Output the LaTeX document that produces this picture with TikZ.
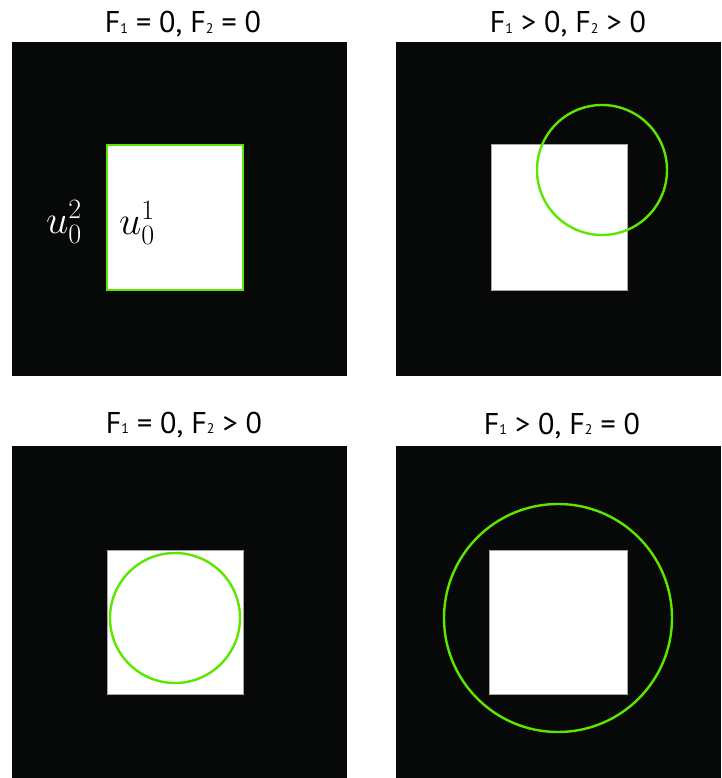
\RequirePackage{fix-cm}
\documentclass[tikz,border=0pt]{standalone}
\usepackage{fontspec}
\setsansfont{PT Sans}
\usepackage{xcolor}
\definecolor{bgblack}{RGB}{6, 9, 8}
\definecolor{levelgreen}{RGB}{92, 230, 0}
\newcommand{\lowdigit}[1]{\raisebox{-0.3pt}{\fontsize{14}{14}\selectfont #1}}

\begin{document}
\begin{tikzpicture}[
    x=1pt, y=-1pt,
    panel/.style={fill=bgblack},
    region/.style={fill=white, draw=gray!70, line width=0.8pt},
    contour/.style={draw=levelgreen, line width=2.4pt},
    ttl/.style={font=\fontsize{30}{34}\selectfont\sffamily, anchor=base, inner sep=0pt},
    lbl/.style={font=\fontsize{40}{44}\selectfont, inner sep=0pt}
]
  \useasboundingbox (0, 0) rectangle (721, 778);

  % Titles
  \node[ttl] (t1) at (183, 33) {F\lowdigit{1} = 0, F\lowdigit{2} = 0};
  \node[ttl] (t2) at (568, 33) {F\lowdigit{1} > 0, F\lowdigit{2} > 0};
  \node[ttl] (t3) at (184, 433) {F\lowdigit{1} = 0, F\lowdigit{2} > 0};
  \node[ttl] (t4) at (562, 434) {F\lowdigit{1} > 0, F\lowdigit{2} = 0};

  % Panel 1: initial contour on the square
  \fill[panel] (12, 42) rectangle (347, 376);
  \fill[white] (107, 145) rectangle (243, 290);
  \draw[contour] (107, 145) rectangle (243, 290);
  \node[lbl, text=white] (u2) at (64, 222) {$u_0^2$};
  \node[lbl, text=black] (u1) at (137, 223) {$u_0^1$};

  % Panel 2
  \fill[panel] (396, 42) rectangle (721, 376);
  \draw[region] (491, 144) rectangle (627, 290);
  \draw[contour] (602, 170) circle (65pt);

  % Panel 3
  \fill[panel] (12, 446) rectangle (347, 778);
  \draw[region] (107, 550) rectangle (243, 694);
  \draw[contour] (175, 618) circle (65pt);

  % Panel 4
  \fill[panel] (396, 446) rectangle (721, 778);
  \draw[region] (489, 550) rectangle (627, 694);
  \draw[contour] (558, 618) circle (114pt);
\end{tikzpicture}
\end{document}
